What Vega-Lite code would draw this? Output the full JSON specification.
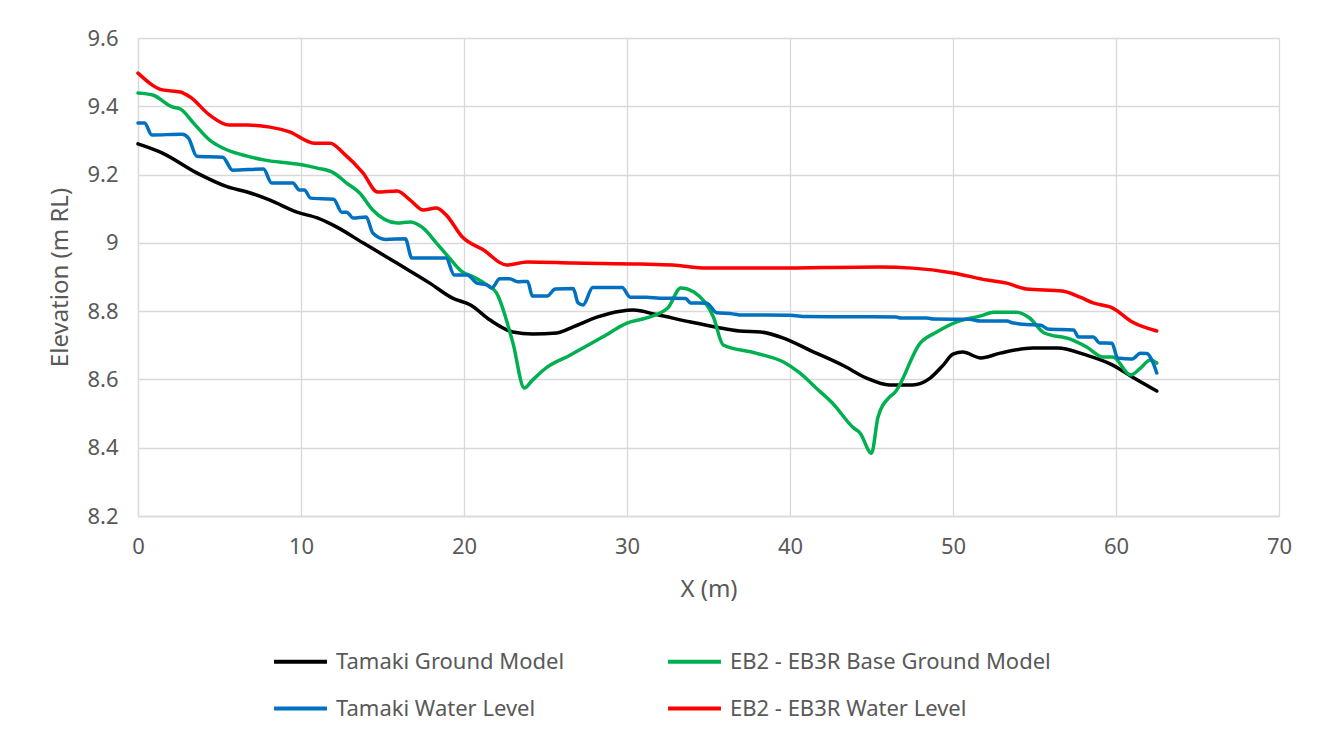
{
  "$schema": "https://vega.github.io/schema/vega-lite/v6.json",
  "width": 1141,
  "height": 478,
  "autosize": {"type": "none"},
  "padding": {"left": 138, "top": 38, "right": 48, "bottom": 220},
  "background": "#ffffff",
  "config": {
    "font": "Noto Sans",
    "view": {"stroke": null},
    "axis": {"labelColor": "#595959", "titleColor": "#595959", "gridColor": "#D9D9D9", "gridWidth": 1.3, "domainColor": "#D9D9D9", "domainWidth": 1.3, "ticks": false, "labelFontSize": 22, "titleFontSize": 24, "titleFontWeight": "normal", "labelFont": "Noto Sans", "titleFont": "Noto Sans", "labelFlush": false}
  },
  "data": {"values": [
    {"s":"Tamaki Ground Model","x":0,"y":9.29},{"s":"Tamaki Ground Model","x":1.5,"y":9.263},{"s":"Tamaki Ground Model","x":3.6,"y":9.205},{"s":"Tamaki Ground Model","x":5.5,"y":9.164},{"s":"Tamaki Ground Model","x":6.7,"y":9.149},{"s":"Tamaki Ground Model","x":8.1,"y":9.125},{"s":"Tamaki Ground Model","x":9.75,"y":9.09},{"s":"Tamaki Ground Model","x":11.0,"y":9.073},{"s":"Tamaki Ground Model","x":12.2,"y":9.046},{"s":"Tamaki Ground Model","x":13.8,"y":9.0},{"s":"Tamaki Ground Model","x":15.9,"y":8.94},{"s":"Tamaki Ground Model","x":17.9,"y":8.882},{"s":"Tamaki Ground Model","x":19.3,"y":8.838},{"s":"Tamaki Ground Model","x":20.4,"y":8.818},{"s":"Tamaki Ground Model","x":21.6,"y":8.774},{"s":"Tamaki Ground Model","x":23.0,"y":8.739},{"s":"Tamaki Ground Model","x":24.2,"y":8.733},{"s":"Tamaki Ground Model","x":25.7,"y":8.736},{"s":"Tamaki Ground Model","x":26.7,"y":8.754},{"s":"Tamaki Ground Model","x":28.2,"y":8.783},{"s":"Tamaki Ground Model","x":29.6,"y":8.8},{"s":"Tamaki Ground Model","x":30.4,"y":8.803},{"s":"Tamaki Ground Model","x":31.8,"y":8.79},{"s":"Tamaki Ground Model","x":33.9,"y":8.768},{"s":"Tamaki Ground Model","x":35.5,"y":8.753},{"s":"Tamaki Ground Model","x":36.9,"y":8.742},{"s":"Tamaki Ground Model","x":38.2,"y":8.739},{"s":"Tamaki Ground Model","x":39.6,"y":8.721},{"s":"Tamaki Ground Model","x":41.2,"y":8.686},{"s":"Tamaki Ground Model","x":43.3,"y":8.64},{"s":"Tamaki Ground Model","x":44.7,"y":8.604},{"s":"Tamaki Ground Model","x":46.1,"y":8.584},{"s":"Tamaki Ground Model","x":47.5,"y":8.584},{"s":"Tamaki Ground Model","x":48.6,"y":8.604},{"s":"Tamaki Ground Model","x":49.4,"y":8.642},{"s":"Tamaki Ground Model","x":50.0,"y":8.674},{"s":"Tamaki Ground Model","x":50.6,"y":8.68},{"s":"Tamaki Ground Model","x":51.7,"y":8.663},{"s":"Tamaki Ground Model","x":52.9,"y":8.677},{"s":"Tamaki Ground Model","x":54.9,"y":8.692},{"s":"Tamaki Ground Model","x":56.4,"y":8.692},{"s":"Tamaki Ground Model","x":58.2,"y":8.671},{"s":"Tamaki Ground Model","x":59.8,"y":8.642},{"s":"Tamaki Ground Model","x":61.0,"y":8.607},{"s":"Tamaki Ground Model","x":62.5,"y":8.566},

    {"s":"EB2 - EB3R Base Ground Model","x":0,"y":9.439},{"s":"EB2 - EB3R Base Ground Model","x":0.9,"y":9.433},{"s":"EB2 - EB3R Base Ground Model","x":2.1,"y":9.398},{"s":"EB2 - EB3R Base Ground Model","x":2.6,"y":9.392},{"s":"EB2 - EB3R Base Ground Model","x":3.4,"y":9.351},{"s":"EB2 - EB3R Base Ground Model","x":4.4,"y":9.301},{"s":"EB2 - EB3R Base Ground Model","x":5.2,"y":9.278},{"s":"EB2 - EB3R Base Ground Model","x":6.7,"y":9.254},{"s":"EB2 - EB3R Base Ground Model","x":7.7,"y":9.243},{"s":"EB2 - EB3R Base Ground Model","x":9.75,"y":9.231},{"s":"EB2 - EB3R Base Ground Model","x":11.0,"y":9.219},{"s":"EB2 - EB3R Base Ground Model","x":12.0,"y":9.205},{"s":"EB2 - EB3R Base Ground Model","x":12.8,"y":9.175},{"s":"EB2 - EB3R Base Ground Model","x":13.6,"y":9.146},{"s":"EB2 - EB3R Base Ground Model","x":14.4,"y":9.096},{"s":"EB2 - EB3R Base Ground Model","x":15.9,"y":9.058},{"s":"EB2 - EB3R Base Ground Model","x":16.7,"y":9.061},{"s":"EB2 - EB3R Base Ground Model","x":17.5,"y":9.043},{"s":"EB2 - EB3R Base Ground Model","x":18.3,"y":9.0},{"s":"EB2 - EB3R Base Ground Model","x":19.1,"y":8.956},{"s":"EB2 - EB3R Base Ground Model","x":19.9,"y":8.915},{"s":"EB2 - EB3R Base Ground Model","x":20.6,"y":8.9},{"s":"EB2 - EB3R Base Ground Model","x":21.4,"y":8.877},{"s":"EB2 - EB3R Base Ground Model","x":22.0,"y":8.853},{"s":"EB2 - EB3R Base Ground Model","x":23.0,"y":8.707},{"s":"EB2 - EB3R Base Ground Model","x":23.7,"y":8.575},{"s":"EB2 - EB3R Base Ground Model","x":24.2,"y":8.598},{"s":"EB2 - EB3R Base Ground Model","x":25.1,"y":8.636},{"s":"EB2 - EB3R Base Ground Model","x":26.5,"y":8.671},{"s":"EB2 - EB3R Base Ground Model","x":28.5,"y":8.724},{"s":"EB2 - EB3R Base Ground Model","x":30.0,"y":8.765},{"s":"EB2 - EB3R Base Ground Model","x":31.2,"y":8.78},{"s":"EB2 - EB3R Base Ground Model","x":32.5,"y":8.809},{"s":"EB2 - EB3R Base Ground Model","x":33.3,"y":8.868},{"s":"EB2 - EB3R Base Ground Model","x":34.1,"y":8.856},{"s":"EB2 - EB3R Base Ground Model","x":35.3,"y":8.783},{"s":"EB2 - EB3R Base Ground Model","x":35.9,"y":8.701},{"s":"EB2 - EB3R Base Ground Model","x":37.9,"y":8.677},{"s":"EB2 - EB3R Base Ground Model","x":39.6,"y":8.651},{"s":"EB2 - EB3R Base Ground Model","x":40.6,"y":8.619},{"s":"EB2 - EB3R Base Ground Model","x":41.6,"y":8.575},{"s":"EB2 - EB3R Base Ground Model","x":42.6,"y":8.531},{"s":"EB2 - EB3R Base Ground Model","x":43.9,"y":8.458},{"s":"EB2 - EB3R Base Ground Model","x":44.3,"y":8.443},{"s":"EB2 - EB3R Base Ground Model","x":45.0,"y":8.384},{"s":"EB2 - EB3R Base Ground Model","x":45.4,"y":8.49},{"s":"EB2 - EB3R Base Ground Model","x":46.1,"y":8.548},{"s":"EB2 - EB3R Base Ground Model","x":46.4,"y":8.56},{"s":"EB2 - EB3R Base Ground Model","x":48.0,"y":8.707},{"s":"EB2 - EB3R Base Ground Model","x":49.0,"y":8.739},{"s":"EB2 - EB3R Base Ground Model","x":50.2,"y":8.768},{"s":"EB2 - EB3R Base Ground Model","x":51.7,"y":8.786},{"s":"EB2 - EB3R Base Ground Model","x":52.5,"y":8.797},{"s":"EB2 - EB3R Base Ground Model","x":53.9,"y":8.797},{"s":"EB2 - EB3R Base Ground Model","x":54.7,"y":8.78},{"s":"EB2 - EB3R Base Ground Model","x":55.6,"y":8.736},{"s":"EB2 - EB3R Base Ground Model","x":57.2,"y":8.718},{"s":"EB2 - EB3R Base Ground Model","x":58.2,"y":8.695},{"s":"EB2 - EB3R Base Ground Model","x":59.2,"y":8.666},{"s":"EB2 - EB3R Base Ground Model","x":59.8,"y":8.666},{"s":"EB2 - EB3R Base Ground Model","x":60.9,"y":8.613},{"s":"EB2 - EB3R Base Ground Model","x":61.5,"y":8.633},{"s":"EB2 - EB3R Base Ground Model","x":62.1,"y":8.657},{"s":"EB2 - EB3R Base Ground Model","x":62.5,"y":8.648},

    {"s":"Tamaki Water Level","x":0,"y":9.351},{"s":"Tamaki Water Level","x":0.4,"y":9.351},{"s":"Tamaki Water Level","x":0.85,"y":9.316},{"s":"Tamaki Water Level","x":2.7,"y":9.318},{"s":"Tamaki Water Level","x":3.1,"y":9.307},{"s":"Tamaki Water Level","x":3.6,"y":9.254},{"s":"Tamaki Water Level","x":5.2,"y":9.251},{"s":"Tamaki Water Level","x":5.8,"y":9.213},{"s":"Tamaki Water Level","x":7.7,"y":9.216},{"s":"Tamaki Water Level","x":8.2,"y":9.175},{"s":"Tamaki Water Level","x":9.5,"y":9.175},{"s":"Tamaki Water Level","x":9.9,"y":9.155},{"s":"Tamaki Water Level","x":10.2,"y":9.155},{"s":"Tamaki Water Level","x":10.6,"y":9.131},{"s":"Tamaki Water Level","x":12.0,"y":9.128},{"s":"Tamaki Water Level","x":12.5,"y":9.09},{"s":"Tamaki Water Level","x":12.8,"y":9.09},{"s":"Tamaki Water Level","x":13.2,"y":9.073},{"s":"Tamaki Water Level","x":14.0,"y":9.076},{"s":"Tamaki Water Level","x":14.4,"y":9.029},{"s":"Tamaki Water Level","x":15.2,"y":9.01},{"s":"Tamaki Water Level","x":16.4,"y":9.012},{"s":"Tamaki Water Level","x":16.8,"y":8.956},{"s":"Tamaki Water Level","x":18.9,"y":8.956},{"s":"Tamaki Water Level","x":19.4,"y":8.906},{"s":"Tamaki Water Level","x":20.2,"y":8.906},{"s":"Tamaki Water Level","x":20.8,"y":8.882},{"s":"Tamaki Water Level","x":21.4,"y":8.877},{"s":"Tamaki Water Level","x":21.7,"y":8.868},{"s":"Tamaki Water Level","x":22.2,"y":8.895},{"s":"Tamaki Water Level","x":22.8,"y":8.895},{"s":"Tamaki Water Level","x":23.3,"y":8.886},{"s":"Tamaki Water Level","x":23.9,"y":8.887},{"s":"Tamaki Water Level","x":24.2,"y":8.844},{"s":"Tamaki Water Level","x":25.1,"y":8.844},{"s":"Tamaki Water Level","x":25.6,"y":8.865},{"s":"Tamaki Water Level","x":26.7,"y":8.866},{"s":"Tamaki Water Level","x":27.0,"y":8.824},{"s":"Tamaki Water Level","x":27.3,"y":8.818},{"s":"Tamaki Water Level","x":27.9,"y":8.869},{"s":"Tamaki Water Level","x":29.7,"y":8.869},{"s":"Tamaki Water Level","x":30.2,"y":8.841},{"s":"Tamaki Water Level","x":31.2,"y":8.841},{"s":"Tamaki Water Level","x":32.0,"y":8.838},{"s":"Tamaki Water Level","x":33.6,"y":8.837},{"s":"Tamaki Water Level","x":33.9,"y":8.824},{"s":"Tamaki Water Level","x":34.9,"y":8.823},{"s":"Tamaki Water Level","x":35.5,"y":8.795},{"s":"Tamaki Water Level","x":36.5,"y":8.792},{"s":"Tamaki Water Level","x":36.9,"y":8.789},{"s":"Tamaki Water Level","x":40.0,"y":8.788},{"s":"Tamaki Water Level","x":41.0,"y":8.784},{"s":"Tamaki Water Level","x":46.5,"y":8.783},{"s":"Tamaki Water Level","x":46.8,"y":8.78},{"s":"Tamaki Water Level","x":48.4,"y":8.78},{"s":"Tamaki Water Level","x":48.8,"y":8.777},{"s":"Tamaki Water Level","x":51.0,"y":8.776},{"s":"Tamaki Water Level","x":51.7,"y":8.771},{"s":"Tamaki Water Level","x":53.3,"y":8.771},{"s":"Tamaki Water Level","x":53.7,"y":8.765},{"s":"Tamaki Water Level","x":54.9,"y":8.76},{"s":"Tamaki Water Level","x":55.4,"y":8.759},{"s":"Tamaki Water Level","x":55.8,"y":8.748},{"s":"Tamaki Water Level","x":57.4,"y":8.745},{"s":"Tamaki Water Level","x":57.7,"y":8.724},{"s":"Tamaki Water Level","x":58.6,"y":8.724},{"s":"Tamaki Water Level","x":59.0,"y":8.707},{"s":"Tamaki Water Level","x":59.75,"y":8.706},{"s":"Tamaki Water Level","x":60.1,"y":8.663},{"s":"Tamaki Water Level","x":61.0,"y":8.66},{"s":"Tamaki Water Level","x":61.5,"y":8.677},{"s":"Tamaki Water Level","x":61.9,"y":8.676},{"s":"Tamaki Water Level","x":62.2,"y":8.657},{"s":"Tamaki Water Level","x":62.5,"y":8.619},

    {"s":"EB2 - EB3R Water Level","x":0,"y":9.497},{"s":"EB2 - EB3R Water Level","x":1.5,"y":9.448},{"s":"EB2 - EB3R Water Level","x":2.6,"y":9.442},{"s":"EB2 - EB3R Water Level","x":3.2,"y":9.427},{"s":"EB2 - EB3R Water Level","x":4.4,"y":9.374},{"s":"EB2 - EB3R Water Level","x":5.6,"y":9.345},{"s":"EB2 - EB3R Water Level","x":6.7,"y":9.345},{"s":"EB2 - EB3R Water Level","x":8.1,"y":9.339},{"s":"EB2 - EB3R Water Level","x":9.3,"y":9.325},{"s":"EB2 - EB3R Water Level","x":10.8,"y":9.292},{"s":"EB2 - EB3R Water Level","x":11.8,"y":9.292},{"s":"EB2 - EB3R Water Level","x":12.6,"y":9.263},{"s":"EB2 - EB3R Water Level","x":13.8,"y":9.205},{"s":"EB2 - EB3R Water Level","x":14.7,"y":9.149},{"s":"EB2 - EB3R Water Level","x":15.9,"y":9.152},{"s":"EB2 - EB3R Water Level","x":16.7,"y":9.125},{"s":"EB2 - EB3R Water Level","x":17.5,"y":9.096},{"s":"EB2 - EB3R Water Level","x":18.3,"y":9.102},{"s":"EB2 - EB3R Water Level","x":18.9,"y":9.082},{"s":"EB2 - EB3R Water Level","x":19.9,"y":9.017},{"s":"EB2 - EB3R Water Level","x":21.2,"y":8.979},{"s":"EB2 - EB3R Water Level","x":22.6,"y":8.935},{"s":"EB2 - EB3R Water Level","x":23.9,"y":8.944},{"s":"EB2 - EB3R Water Level","x":26.7,"y":8.941},{"s":"EB2 - EB3R Water Level","x":30.8,"y":8.938},{"s":"EB2 - EB3R Water Level","x":32.8,"y":8.935},{"s":"EB2 - EB3R Water Level","x":34.9,"y":8.926},{"s":"EB2 - EB3R Water Level","x":39.0,"y":8.926},{"s":"EB2 - EB3R Water Level","x":45.5,"y":8.929},{"s":"EB2 - EB3R Water Level","x":47.5,"y":8.926},{"s":"EB2 - EB3R Water Level","x":50.0,"y":8.912},{"s":"EB2 - EB3R Water Level","x":52.1,"y":8.891},{"s":"EB2 - EB3R Water Level","x":53.3,"y":8.882},{"s":"EB2 - EB3R Water Level","x":54.5,"y":8.865},{"s":"EB2 - EB3R Water Level","x":56.7,"y":8.859},{"s":"EB2 - EB3R Water Level","x":57.8,"y":8.841},{"s":"EB2 - EB3R Water Level","x":58.6,"y":8.824},{"s":"EB2 - EB3R Water Level","x":59.8,"y":8.809},{"s":"EB2 - EB3R Water Level","x":61.0,"y":8.768},{"s":"EB2 - EB3R Water Level","x":62.5,"y":8.742}
  ]},
  "mark": {"type": "line", "strokeWidth": 3.5, "strokeCap": "round", "strokeJoin": "round", "interpolate": "monotone"},
  "encoding": {
    "x": {"field": "x", "type": "quantitative", "scale": {"domain": [0, 70], "nice": false, "zero": false},
      "axis": {"title": "X (m)", "values": [0,10,20,30,40,50,60,70], "labelPadding": 20, "titlePadding": 20, "grid": true}},
    "y": {"field": "y", "type": "quantitative", "scale": {"domain": [8.2, 9.6], "nice": false, "zero": false},
      "axis": {"title": "Elevation (m RL)", "values": [8.2,8.4,8.6,8.8,9,9.2,9.4,9.6], "format": ".1~f", "labelPadding": 20, "titlePadding": 14, "grid": true}},
    "color": {"field": "s", "type": "nominal",
      "scale": {"domain": ["Tamaki Ground Model", "EB2 - EB3R Base Ground Model", "Tamaki Water Level", "EB2 - EB3R Water Level"], "range": ["#000000", "#00B050", "#0070C0", "#FF0000"]},
      "legend": {"title": null, "orient": "none", "legendX": 134, "legendY": 595, "columns": 2, "direction": "horizontal", "symbolType": "stroke", "symbolSize": 2800, "symbolStrokeWidth": 4, "labelFontSize": 22, "labelColor": "#595959", "labelOffset": 7, "labelLimit": 600, "columnPadding": 95, "rowPadding": 7, "labelFont": "Noto Sans"}},
    "order": {"field": "x", "type": "quantitative"}
  }
}
